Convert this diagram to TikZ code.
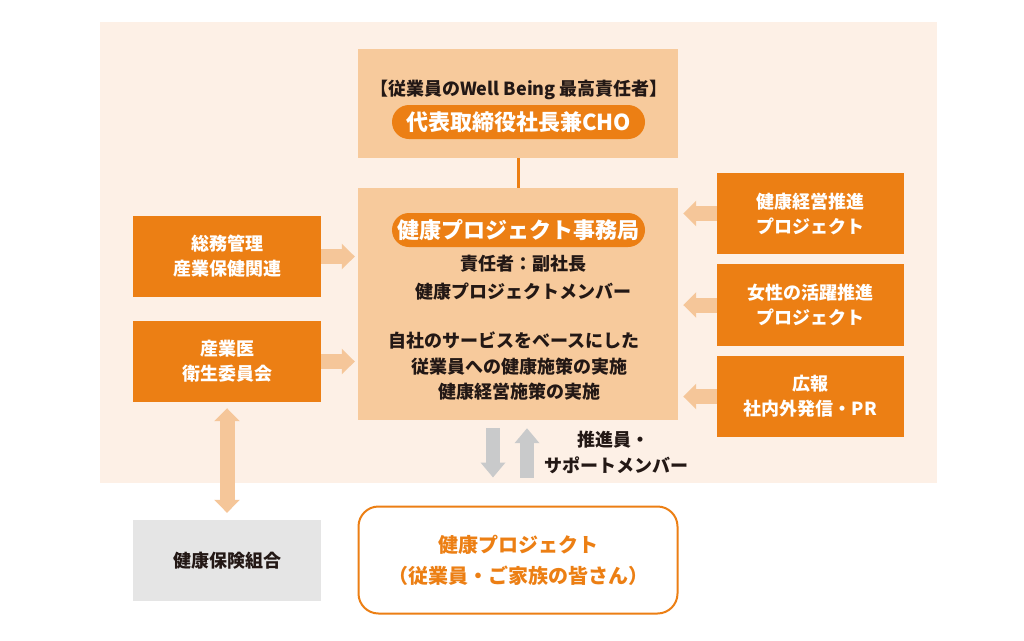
\documentclass[tikz,border=0pt]{standalone}
\usepackage{fontspec}
\setmainfont{Noto Sans CJK JP}
\usetikzlibrary{arrows.meta}
\definecolor{bgpeach}{HTML}{FDF0E6}
\definecolor{lightor}{HTML}{F7CA9C}
\definecolor{arrowor}{HTML}{F5C699}
\definecolor{mainor}{HTML}{EC7F14}
\definecolor{greybox}{HTML}{E5E5E5}
\definecolor{greyarr}{HTML}{C9CACB}
\definecolor{ink}{HTML}{231815}
\tikzset{
  lightbox/.style={fill=lightor, inner sep=0pt, minimum width=320pt},
  pill/.style={fill=mainor, rounded corners=17pt, minimum width=253pt, minimum height=34pt, inner sep=0pt, text=white, font=\bfseries\fontsize{22}{26}\selectfont},
  orbox/.style={fill=mainor, minimum width=188pt, minimum height=81pt, inner sep=0pt, text=white, align=center, font=\bfseries\fontsize{18}{25}\selectfont},
  fatarrow/.style={draw=arrowor, line width=15pt, -{Triangle[width=25pt,length=13pt]}},
  fatdouble/.style={draw=arrowor, line width=15pt, {Triangle[width=25pt,length=13pt]}-{Triangle[width=25pt,length=13pt]}},
  greyarrow/.style={draw=greyarr, line width=14pt, -{Triangle[width=24pt,length=15pt]}},
  darktext/.style={text=ink, align=center, inner sep=0pt, font=\bfseries\fontsize{18}{26}\selectfont}
}
\begin{document}
\begin{tikzpicture}[x=1pt,y=-1pt]
\useasboundingbox (0,0) rectangle (1024,640);
\fill[white] (0,0) rectangle (1024,640);
\fill[bgpeach] (100,22) rectangle (937,483);

% top CHO box
\node[lightbox, minimum height=109pt] (cho) at (518,103.5) {};
\node[darktext] (chotitle) at (519,90) {【従業員のWell Being 最高責任者】};
\node[pill] (chopill) at (518.5,122) {代表取締役社長兼CHO};

% main office box
\node[lightbox, minimum height=232pt] (main) at (518,304) {};
\node[pill] (mainpill) at (518.5,230) {健康プロジェクト事務局};
\node[darktext] (t1) at (523,264) {責任者：副社長};
\node[darktext] (t2) at (523,292) {健康プロジェクトメンバー};
\node[darktext] (t3) at (514,341) {自社のサービスをベースにした};
\node[darktext] (t4) at (519,367) {従業員への健康施策の実施};
\node[darktext] (t5) at (519,392) {健康経営施策の実施};

\draw[mainor, line width=3pt] (cho.south) -- (main.north);

% left boxes
\node[orbox] (l1) at (227,256.5) {総務管理\\産業保健関連};
\node[orbox] (l2) at (227,361.5) {産業医\\衛生委員会};

% right boxes
\node[orbox, minimum width=187pt] (r1) at (810.5,213.5) {健康経営推進\\プロジェクト};
\node[orbox, minimum width=187pt, minimum height=82pt] (r2) at (810.5,305) {女性の活躍推進\\プロジェクト};
\node[orbox, minimum width=187pt] (r3) at (810.5,396.5) {広報\\社内外発信・PR};

% health insurance
\node[fill=greybox, minimum width=188pt, minimum height=81pt, inner sep=0pt, text=ink, font=\bfseries\fontsize{18}{25}\selectfont] (kenpo) at (227,560.5) {健康保険組合};

% bottom project box
\node[draw=mainor, line width=2pt, fill=white, rounded corners=20pt, minimum width=319pt, minimum height=107pt, inner sep=0pt, text=mainor, align=center, font=\bfseries\fontsize{20}{31}\selectfont] (proj) at (518,560) {健康プロジェクト\\（従業員・ご家族の皆さん）};

% arrows
\draw[fatarrow, shorten >=3pt] (l1.east) -- (main.west |- l1.east);
\draw[fatarrow, shorten >=3pt] (l2.east) -- (main.west |- l2.east);
\draw[fatarrow, shorten >=5pt] (r1.west) -- (main.east |- r1.west);
\draw[fatarrow, shorten >=5pt] (r2.west) -- (main.east |- r2.west);
\draw[fatarrow, shorten >=5pt] (r3.west) -- (main.east |- r3.west);
\draw[fatdouble, shorten <=6pt, shorten >=7pt] (l2.south) -- (kenpo.north);

\coordinate (dx) at (493,0);
\coordinate (ux) at (527,0);
\draw[greyarrow, shorten <=8pt, shorten >=28pt] (main.south -| dx) -- (proj.north -| dx);
\draw[greyarrow, shorten <=28pt, shorten >=8pt] (proj.north -| ux) -- (main.south -| ux);

\node[darktext] (lab1) at (613,440) {推進員・};
\node[darktext] (lab2) at (616,465) {サポートメンバー};
\end{tikzpicture}
\end{document}
